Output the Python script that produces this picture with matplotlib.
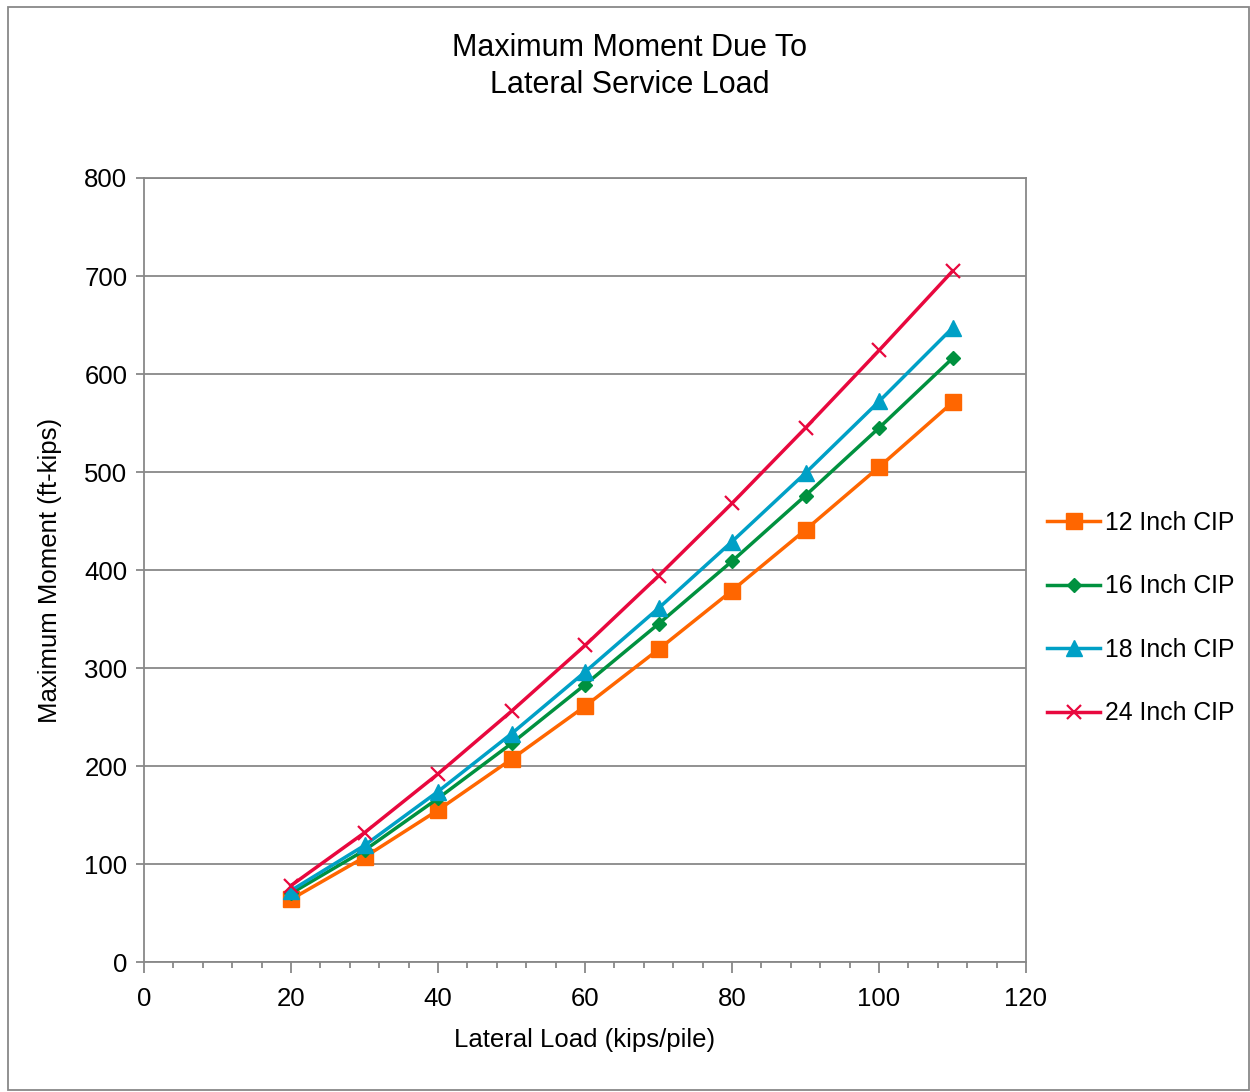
import matplotlib
matplotlib.use("Agg")
import matplotlib.pyplot as plt
from matplotlib.patches import Rectangle
from matplotlib.ticker import MultipleLocator

plt.rcParams['font.family'] = ['Liberation Sans', 'DejaVu Sans']

# lateral load (kips/pile)
loads = [20, 30, 40, 50, 60, 70, 80, 90, 100, 110]

# maximum moment (ft-kips) per pile size
m12 = [64, 107, 155, 207, 261, 319, 379, 441, 505, 571]
m16 = [70, 114, 167, 223, 283, 345, 409, 476, 545, 616]
m18 = [73, 119, 174, 233, 296, 361, 429, 499, 572, 647]
m24 = [78, 132, 192, 256, 323, 394, 468, 545, 624, 705]

labels = ['12 Inch CIP', '16 Inch CIP', '18 Inch CIP', '24 Inch CIP']

fig = plt.figure(figsize=(12.5, 10.92), dpi=100)
ax = fig.add_axes([0.1152, 0.1190, 0.7056, 0.7180])

gray = '#888888'

ax.plot(loads, m12, color='#FF6600', lw=2.5, marker='s', ms=11, label=labels[0])
ax.plot(loads, m16, color='#00913F', lw=2.5, marker='D', ms=7.5, label=labels[1])
ax.plot(loads, m18, color='#00A0C6', lw=2.5, marker='^', ms=11, label=labels[2])
ax.plot(loads, m24, color='#E8083E', lw=2.5, marker='x', ms=10, mew=1.6, label=labels[3])

ax.set_xlim(0, 120)
ax.set_ylim(0, 800)
ax.xaxis.set_major_locator(MultipleLocator(20))
ax.xaxis.set_minor_locator(MultipleLocator(4))
ax.yaxis.set_major_locator(MultipleLocator(100))

ax.grid(axis='y', color=gray, lw=1.3)
ax.set_axisbelow(True)
for s in ax.spines.values():
    s.set_color(gray)
    s.set_linewidth(1.3)

ax.tick_params(axis='x', which='major', length=8, width=1.3, color=gray,
               labelsize=18.5, pad=10, direction='out')
ax.tick_params(axis='x', which='minor', length=4, width=1.3, color=gray)
ax.tick_params(axis='y', which='major', length=6, width=1.3, color=gray,
               labelsize=18.5, pad=6)

ax.set_xlabel('Lateral Load (kips/pile)', fontsize=18.5, labelpad=12)
ax.set_ylabel('Maximum Moment (ft-kips)', fontsize=18.5, labelpad=16)

fig.text(0.504, 0.939, 'Maximum Moment Due To\nLateral Service Load',
         ha='center', va='center', fontsize=22, linespacing=1.28)

fig.legend(loc='center left', bbox_to_anchor=(0.8376, 0.434), frameon=False,
           borderaxespad=0, borderpad=0,
           fontsize=17.8, handlelength=2.15, handletextpad=0.2, labelspacing=1.6)

fig.patches.append(Rectangle((0.006, 0.002), 0.993, 0.992, transform=fig.transFigure,
                             fill=False, edgecolor=gray, lw=1.3))

fig.savefig('out.png', dpi=100)
